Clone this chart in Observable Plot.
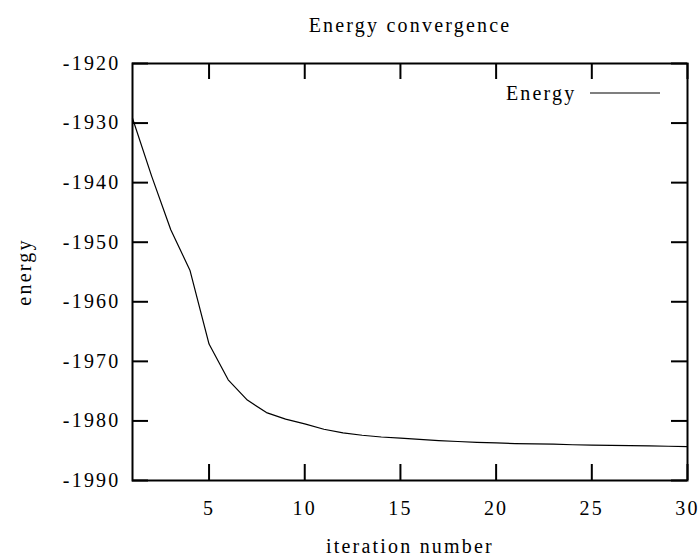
<!DOCTYPE html>
<html>
<head>
<meta charset="utf-8">
<script src="https://cdn.jsdelivr.net/npm/d3@7"></script>
<script src="https://cdn.jsdelivr.net/npm/@observablehq/plot@0.6"></script>
<style>
  html, body { margin: 0; padding: 0; background: #fff; }
  #chart { width: 700px; height: 558px; }
  #chart svg text { letter-spacing: 2.2px; }
</style>
</head>
<body>
<div id="chart"></div>
<script>
const iterations = [1,2,3,4,5,6,7,8,9,10,11,12,13,14,15,16,17,18,19,20,21,22,23,24,25,26,27,28,29,30];
const energy = [-1929.2,-1938.9,-1947.9,-1954.7,-1967.1,-1973.1,-1976.5,-1978.6,-1979.7,-1980.5,
                -1981.4,-1982.0,-1982.4,-1982.7,-1982.9,-1983.1,-1983.3,-1983.45,-1983.6,-1983.7,
                -1983.8,-1983.85,-1983.9,-1984.0,-1984.05,-1984.1,-1984.15,-1984.2,-1984.25,-1984.3];
const xTicks = [5,10,15,20,25,30];
const yTicks = [-1990,-1980,-1970,-1960,-1950,-1940,-1930,-1920];
const title = "Energy convergence";
const xLabel = "iteration number";
const yLabel = "energy";
const seriesName = "Energy";

const data = iterations.map((x, i) => ({x, y: energy[i]}));

const W = 700, H = 558;
const mL = 132, mR = 13, mT = 63, mB = 78;
const plotH = H - mT - mB, plotW = W - mL - mR;
const tick = 16;
const fs = 20;
const font = "'Liberation Serif', 'DejaVu Serif', serif";

const chart = Plot.plot({
  width: W, height: H,
  marginLeft: mL, marginRight: mR, marginTop: mT, marginBottom: mB,
  style: {fontFamily: font, fontSize: fs + "px", color: "#000", background: "#fff"},
  x: {domain: [1, 30]},
  y: {domain: [-1990, -1920]},
  marks: [
    // inward ticks on all four sides
    Plot.ruleX(xTicks, {x: d => d, insetTop: plotH - tick, stroke: "#000", strokeWidth: 2}),
    Plot.ruleX(xTicks, {x: d => d, insetBottom: plotH - tick, stroke: "#000", strokeWidth: 2}),
    Plot.ruleY(yTicks, {y: d => d, insetRight: plotW - tick, stroke: "#000", strokeWidth: 2}),
    Plot.ruleY(yTicks, {y: d => d, insetLeft: plotW - tick, stroke: "#000", strokeWidth: 2}),
    Plot.axisX({ticks: xTicks, tickSize: 0, tickPadding: 20, tickFormat: d => String(d), fontSize: fs,
      label: xLabel, labelAnchor: "center", labelArrow: "none", labelOffset: 72}),
    Plot.axisY({ticks: yTicks, tickSize: 0, tickPadding: 12, tickFormat: d => String(d), fontSize: fs,
      label: yLabel, labelAnchor: "center", labelArrow: "none", labelOffset: 116}),
    Plot.lineY(data, {x: "x", y: "y", stroke: "#000", strokeWidth: 1.2}),
    Plot.frame({stroke: "#000", strokeWidth: 2}),
    Plot.text([title], {frameAnchor: "top", lineAnchor: "middle", dy: -38, fontSize: fs, fill: "#000"}),
    Plot.text([seriesName], {frameAnchor: "top-right", lineAnchor: "middle", dx: -111, dy: 30, textAnchor: "end", fontSize: fs, fill: "#000"})
  ]
});
document.getElementById("chart").appendChild(chart);

// legend sample line
d3.select(chart).append("line")
  .attr("x1", W - mR - 97).attr("x2", W - mR - 27)
  .attr("y1", mT + 30).attr("y2", mT + 30)
  .attr("stroke", "#000").attr("stroke-width", 1.2);
</script>
</body>
</html>
